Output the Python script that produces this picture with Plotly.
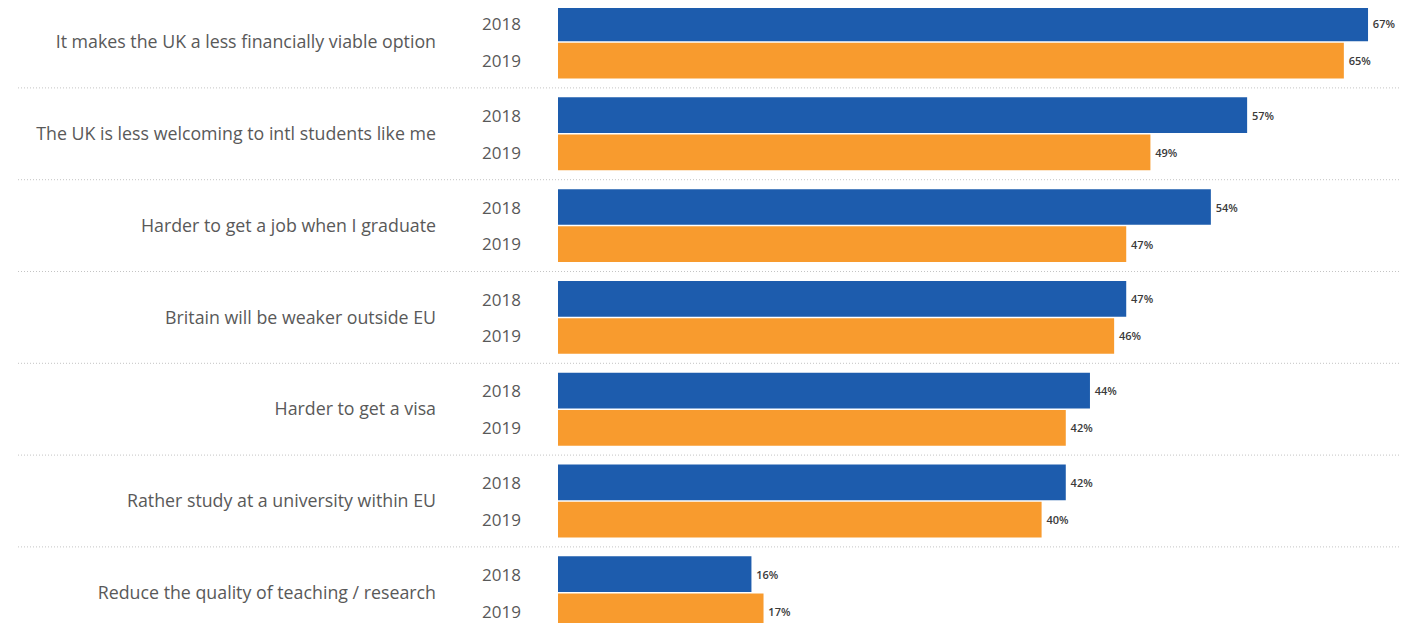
import plotly.graph_objects as go

# reasons given by intl students, share of respondents (%)
reasons = [
    "It makes the UK a less financially viable option",
    "The UK is less welcoming to intl students like me",
    "Harder to get a job when I graduate",
    "Britain will be weaker outside EU",
    "Harder to get a visa",
    "Rather study at a university within EU",
    "Reduce the quality of teaching / research",
]
years = ["2018", "2019"]
share_2018 = [67, 57, 54, 47, 44, 42, 16]
share_2019 = [65, 49, 47, 46, 42, 40, 17]

# the page body adds an 8px offset, so the figure is drawn 8px smaller
W, H = 1403, 615
PLOT_LEFT = 550          # px where the bars start
PX_PER_PCT = 12.09
GROUP_PX = 91.8
FONT = "Open Sans"
GREY = "#595959"

fig = go.Figure()

for yr, vals, col in [(years[0], share_2018, "#1d5cad"),
                      (years[1], share_2019, "#f89b2e")]:
    fig.add_trace(go.Bar(
        y=reasons, x=vals, name=yr, orientation="h",
        marker=dict(color=col, line=dict(width=0)),
        text=[f"{v}%" for v in vals], textposition="outside",
        texttemplate="\u2009%{text}",
        textfont=dict(family=FONT, size=11, color="#3a3a3a", weight=600),
        cliponaxis=False, hoverinfo="x+y",
    ))

# dotted separators between the groups
x_sep0 = (10 - PLOT_LEFT) / (W - PLOT_LEFT)
x_sep1 = (1392 - PLOT_LEFT) / (W - PLOT_LEFT)
for i in range(len(reasons) - 1):
    fig.add_shape(type="line", xref="paper", yref="y",
                  x0=x_sep0, x1=x_sep1, y0=i + 0.5, y1=i + 0.5,
                  line=dict(color="#c4c4c4", width=1, dash="1px,2px"))

# year labels next to each bar
x_year = (515 - PLOT_LEFT) / (W - PLOT_LEFT)
for i in range(len(reasons)):
    for yr, off in [(years[0], -0.2), (years[1], 0.2)]:
        fig.add_annotation(x=x_year, xref="paper", y=i + off, yref="y",
                           text=yr, showarrow=False, xanchor="right",
                           font=dict(family=FONT, size=17, color=GREY))

top = -34 / GROUP_PX
fig.update_layout(
    width=W, height=H,
    margin=dict(l=PLOT_LEFT, r=0, t=0, b=0),
    paper_bgcolor="white", plot_bgcolor="white",
    barmode="group", bargap=0.19, bargroupgap=0.04,
    showlegend=False,
    xaxis=dict(range=[0, (W - PLOT_LEFT) / PX_PER_PCT], visible=False),
    yaxis=dict(type="category", range=[top + H / GROUP_PX, top],
               showgrid=False, zeroline=False, ticks="",
               ticklabelstandoff=121,
               tickfont=dict(family=FONT, size=17.8, color=GREY)),
)

fig.write_html("out.html")
